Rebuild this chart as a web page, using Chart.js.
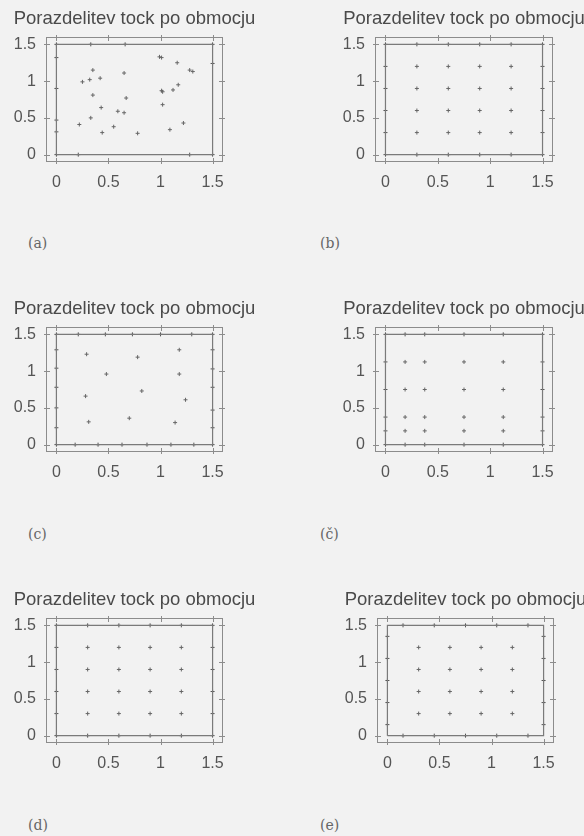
<!DOCTYPE html>
<html>
<head>
<meta charset="utf-8">
<script src="https://cdn.jsdelivr.net/npm/chart.js@4.4.0/dist/chart.umd.min.js"></script>
<style>
  body { margin: 0; background: #f2f2f2; }
  .wrap { position: relative; width: 584px; height: 836px; overflow: hidden; }
  canvas { position: absolute; }
  .tag { position: absolute; font: 14px "DejaVu Serif", "Liberation Serif", serif; color: #666; }
</style>
</head>
<body>
<div class="wrap">
  <canvas id="pa" width="292" height="200" style="left:0;top:0"></canvas>
  <canvas id="pb" width="292" height="200" style="left:292px;top:0"></canvas>
  <canvas id="pc" width="292" height="200" style="left:0;top:290px"></canvas>
  <canvas id="pcc" width="292" height="200" style="left:292px;top:290px"></canvas>
  <canvas id="pd" width="292" height="200" style="left:0;top:581px"></canvas>
  <canvas id="pe" width="292" height="200" style="left:292px;top:581px"></canvas>
  <div class="tag" style="left:28px;top:235px">(a)</div>
  <div class="tag" style="left:320px;top:235px">(b)</div>
  <div class="tag" style="left:28px;top:526px">(c)</div>
  <div class="tag" style="left:320px;top:526px">(č)</div>
  <div class="tag" style="left:28px;top:817px">(d)</div>
  <div class="tag" style="left:320px;top:817px">(e)</div>
</div>
<script>
const title = 'Porazdelitev tock po obmocju';
const tickValues = [0, 0.5, 1, 1.5];
const tickLabels = ['0', '0.5', '1', '1.5'];
const axisMin = -0.1;
const axisMax = 1.6;

// rob obmocja
const domainEdge = [[0, 0], [1.5, 0], [1.5, 1.5], [0, 1.5], [0, 0]];

// (a) nakljucne tocke
const aBoundary = [[0, 0], [0.21, 0], [1.28, 0], [1.5, 0], [1.5, 1.24], [1.5, 1.5], [0.66, 1.5], [0.33, 1.5],
  [0, 1.5], [0, 1.32], [0, 0.9], [0, 0.47], [0, 0.31]];
const aInner = [[0.25, 0.99], [0.32, 1.02], [0.35, 1.15], [0.42, 1.04], [0.65, 1.11], [0.35, 0.81], [0.43, 0.64],
  [0.33, 0.5], [0.22, 0.41], [0.44, 0.3], [0.55, 0.38], [0.59, 0.59], [0.65, 0.57], [0.67, 0.77], [0.78, 0.29],
  [0.99, 1.33], [1.01, 1.32], [1.16, 1.25], [1.28, 1.15], [1.31, 1.13], [1.01, 0.87], [1.02, 0.855], [1.17, 0.95],
  [1.12, 0.88], [1.02, 0.68], [1.09, 0.34], [1.22, 0.43]];

// (b) enakomerna mreza
const bBoundary = [[0, 0], [0.3, 0], [0.6, 0], [0.9, 0], [1.2, 0], [1.5, 0], [1.5, 0.3], [1.5, 0.6], [1.5, 0.9],
  [1.5, 1.2], [1.5, 1.5], [1.2, 1.5], [0.9, 1.5], [0.6, 1.5], [0.3, 1.5], [0, 1.5], [0, 1.2], [0, 0.9], [0, 0.6], [0, 0.3]];
const bInner = [[0.3, 0.3], [0.6, 0.3], [0.9, 0.3], [1.2, 0.3], [0.3, 0.6], [0.6, 0.6], [0.9, 0.6], [1.2, 0.6],
  [0.3, 0.9], [0.6, 0.9], [0.9, 0.9], [1.2, 0.9], [0.3, 1.2], [0.6, 1.2], [0.9, 1.2], [1.2, 1.2]];

// (c)
const cBoundary = [[0, 0], [0.18, 0], [0.4, 0], [0.63, 0], [0.87, 0], [1.1, 0], [1.32, 0], [1.5, 0], [1.5, 0.23],
  [1.5, 0.47], [1.5, 0.78], [1.5, 1.03], [1.5, 1.29], [1.5, 1.5], [1.3, 1.5], [1.0, 1.5], [0.73, 1.5], [0.47, 1.5],
  [0.21, 1.5], [0, 1.5], [0, 1.29], [0, 1.04], [0, 0.78], [0, 0.5], [0, 0.23]];
const cInner = [[0.29, 1.23], [0.78, 1.19], [1.18, 1.29], [0.48, 0.96], [1.18, 0.96], [0.82, 0.73], [0.28, 0.66],
  [1.24, 0.61], [0.31, 0.31], [0.7, 0.36], [1.14, 0.3]];

// (č) zgoscena mreza
const ccBoundary = [[0, 0], [0.1875, 0], [0.375, 0], [0.75, 0], [1.125, 0], [1.5, 0], [1.5, 0.1875], [1.5, 0.375],
  [1.5, 0.75], [1.5, 1.125], [1.5, 1.5], [1.125, 1.5], [0.75, 1.5], [0.375, 1.5], [0.1875, 1.5], [0, 1.5],
  [0, 1.125], [0, 0.75], [0, 0.375], [0, 0.1875]];
const ccInner = [[0.1875, 0.1875], [0.375, 0.1875], [0.75, 0.1875], [1.125, 0.1875],
  [0.1875, 0.375], [0.375, 0.375], [0.75, 0.375], [1.125, 0.375],
  [0.1875, 0.75], [0.375, 0.75], [0.75, 0.75], [1.125, 0.75],
  [0.1875, 1.125], [0.375, 1.125], [0.75, 1.125], [1.125, 1.125]];

// (d)
const dBoundary = [[0, 0], [0.3, 0], [0.6, 0], [0.9, 0], [1.2, 0], [1.5, 0], [1.5, 0.3], [1.5, 0.6], [1.5, 0.9],
  [1.5, 1.2], [1.5, 1.5], [1.2, 1.5], [0.9, 1.5], [0.6, 1.5], [0.3, 1.5], [0, 1.5], [0, 1.2], [0, 0.9], [0, 0.6], [0, 0.3]];
const dInner = [[0.3, 0.3], [0.6, 0.3], [0.9, 0.3], [1.2, 0.3], [0.3, 0.6], [0.6, 0.6], [0.9, 0.6], [1.2, 0.6],
  [0.3, 0.9], [0.6, 0.9], [0.9, 0.9], [1.2, 0.9], [0.3, 1.2], [0.6, 1.2], [0.9, 1.2], [1.2, 1.2]];

// (e) robne tocke zamaknjene
const eBoundary = [[0.15, 0], [0.45, 0], [0.75, 0], [1.05, 0], [1.35, 0], [1.5, 0.15], [1.5, 0.45], [1.5, 0.75],
  [1.5, 1.05], [1.5, 1.35], [1.35, 1.5], [1.05, 1.5], [0.75, 1.5], [0.45, 1.5], [0.15, 1.5], [0, 1.35], [0, 1.05],
  [0, 0.75], [0, 0.45], [0, 0.15]];
const eInner = [[0.3, 0.3], [0.6, 0.3], [0.9, 0.3], [1.2, 0.3], [0.3, 0.6], [0.6, 0.6], [0.9, 0.6], [1.2, 0.6],
  [0.3, 0.9], [0.6, 0.9], [0.9, 0.9], [1.2, 0.9], [0.3, 1.2], [0.6, 1.2], [0.9, 1.2], [1.2, 1.2]];

const toXY = arr => arr.map(p => ({ x: p[0], y: p[1] }));

// okvir, crtice in naslov (gnuplot stil)
const framePlugin = {
  id: 'frame',
  afterDraw(chart) {
    const { ctx, chartArea: a, scales } = chart;
    ctx.save();
    ctx.strokeStyle = '#8c8c8c';
    ctx.lineWidth = 1;
    ctx.strokeRect(Math.round(a.left) + 0.5, Math.round(a.top) + 0.5, Math.round(a.width) - 1, Math.round(a.height) - 1);
    ctx.beginPath();
    scales.x.ticks.forEach(t => {
      const px = Math.round(scales.x.getPixelForValue(t.value)) + 0.5;
      ctx.moveTo(px, a.bottom - 4); ctx.lineTo(px, a.bottom + 2);
      ctx.moveTo(px, a.top - 2); ctx.lineTo(px, a.top + 4);
    });
    scales.y.ticks.forEach(t => {
      const py = Math.round(scales.y.getPixelForValue(t.value)) + 0.5;
      ctx.moveTo(a.left - 2, py); ctx.lineTo(a.left + 4, py);
      ctx.moveTo(a.right - 4, py); ctx.lineTo(a.right + 2, py);
    });
    ctx.stroke();
    ctx.fillStyle = '#4a4a4a';
    ctx.font = '18.5px "Liberation Sans", Arial, sans-serif';
    ctx.textAlign = 'center';
    ctx.textBaseline = 'middle';
    ctx.fillText(title, (a.left + a.right) / 2, a.top - 18);
    ctx.restore();
  }
};

function makePanel(id, boundary, inner, left, right) {
  const scale = pad => ({
    type: 'linear',
    min: axisMin,
    max: axisMax,
    grid: { display: false, drawTicks: false },
    border: { display: false },
    afterBuildTicks: s => { s.ticks = tickValues.map(v => ({ value: v })); },
    ticks: {
      padding: pad,
      color: '#555',
      font: { family: '"Liberation Sans", Arial, sans-serif', size: 16 },
      callback: (v, i) => tickLabels[i]
    }
  });
  const xs = scale(11);
  xs.afterFit = s => { s.height = 26; };
  const ys = scale(10);
  ys.afterFit = s => { s.width = 36; };

  return new Chart(document.getElementById(id), {
    type: 'scatter',
    data: {
      datasets: [
        {
          data: toXY(domainEdge),
          showLine: true,
          borderColor: '#7a7a7a',
          borderWidth: 1.2,
          pointRadius: 0
        },
        {
          data: toXY(boundary),
          pointStyle: 'cross',
          pointRadius: 2,
          borderColor: '#555',
          borderWidth: 1
        },
        {
          data: toXY(inner),
          pointStyle: 'cross',
          pointRadius: 2,
          borderColor: '#666',
          borderWidth: 1
        }
      ]
    },
    options: {
      responsive: false,
      animation: false,
      layout: { padding: { left: left - 36, right: 292 - right, top: 37, bottom: 200 - 162 - 26 } },
      plugins: { legend: { display: false }, tooltip: { enabled: false } },
      scales: { x: xs, y: ys }
    },
    plugins: [framePlugin]
  });
}

makePanel('pa', aBoundary, aInner, 46, 223);
makePanel('pb', bBoundary, bInner, 83, 261);
makePanel('pc', cBoundary, cInner, 46, 223);
makePanel('pcc', ccBoundary, ccInner, 83, 261);
makePanel('pd', dBoundary, dInner, 46, 223);
makePanel('pe', eBoundary, eInner, 85, 262);
</script>
</body>
</html>
